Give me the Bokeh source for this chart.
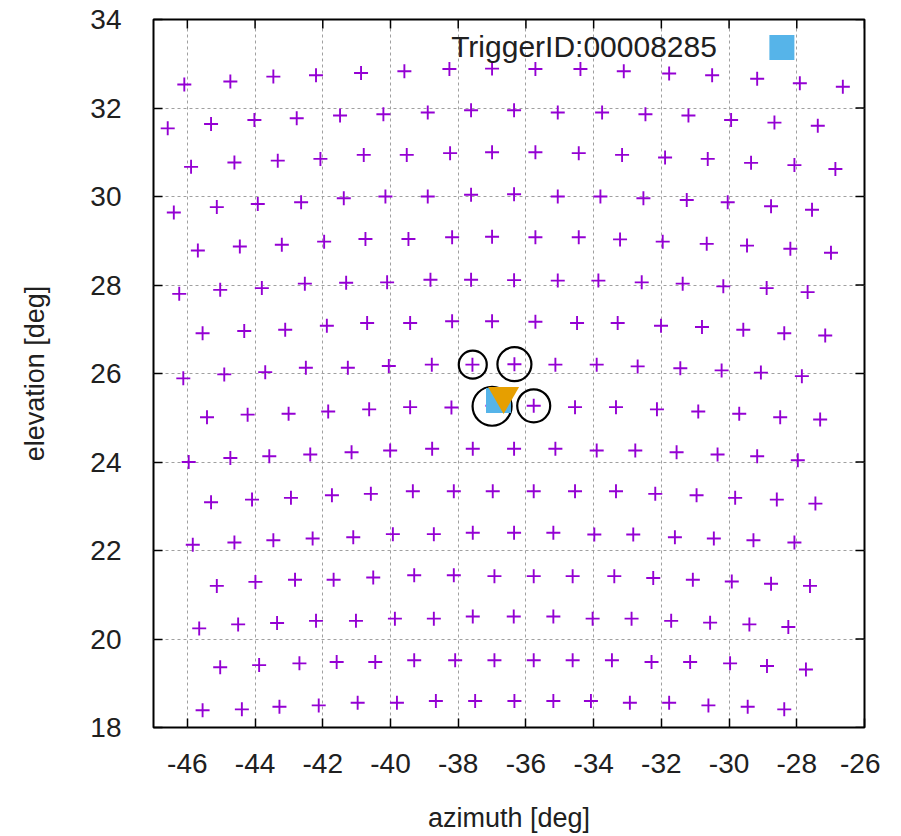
import math
from bokeh.plotting import figure
from bokeh.models import Range1d, SingleIntervalTicker, Label
from bokeh.embed import file_html
from bokeh.resources import INLINE

# camera pixel directions (azimuth / elevation, deg), row by row
pixel_az = [
    -46.09, -44.73, -43.46, -42.20, -40.87, -39.59, -38.26, -37.00, -35.72, -34.39, -33.11, -31.77, -30.50, -29.17, -27.91, -26.64,
    -46.58, -45.30, -44.02, -42.77, -41.49, -40.21, -38.90, -37.62, -36.35, -35.06, -33.75, -32.47, -31.20, -29.94, -28.66, -27.38,
    -45.89, -44.61, -43.33, -42.07, -40.79, -39.52, -38.24, -37.00, -35.72, -34.44, -33.16, -31.89, -30.63, -29.35, -28.07, -26.86,
    -46.40, -45.13, -43.92, -42.64, -41.38, -40.15, -38.90, -37.62, -36.35, -35.06, -33.80, -32.53, -31.25, -30.04, -28.76, -27.55,
    -45.69, -44.45, -43.21, -41.96, -40.74, -39.47, -38.18, -37.00, -35.72, -34.44, -33.22, -31.96, -30.66, -29.47, -28.19, -26.99,
    -46.24, -45.03, -43.80, -42.53, -41.31, -40.10, -38.82, -37.62, -36.35, -35.06, -33.86, -32.58, -31.37, -30.17, -28.89, -27.68,
    -45.55, -44.32, -43.11, -41.88, -40.69, -39.42, -38.18, -37.00, -35.72, -34.49, -33.29, -32.01, -30.80, -29.58, -28.37, -27.16,
    -46.12, -44.91, -43.70, -42.50, -41.26, -40.05, -38.78, -37.58, -36.34, -35.13, -33.91, -32.70, -31.44, -30.22, -29.06, -27.85,
    -45.42, -44.22, -43.01, -41.84, -40.63, -39.42, -38.20, -36.99, -35.77, -34.55, -33.34, -32.13, -30.91, -29.70, -28.49, -27.31,
    -45.96, -44.73, -43.58, -42.37, -41.15, -40.01, -38.77, -37.57, -36.35, -35.13, -33.91, -32.77, -31.55, -30.34, -29.17, -27.97,
    -45.30, -44.09, -42.94, -41.73, -40.58, -39.34, -38.13, -36.98, -35.77, -34.55, -33.34, -32.18, -30.96, -29.82, -28.59, -27.45,
    -45.84, -44.61, -43.46, -42.30, -41.10, -39.93, -38.72, -37.57, -36.35, -35.19, -33.98, -32.83, -31.60, -30.45, -29.28, -28.07,
    -45.13, -43.99, -42.82, -41.68, -40.51, -39.30, -38.13, -36.93, -35.77, -34.62, -33.39, -32.24, -31.07, -29.92, -28.76, -27.61,
    -45.65, -44.50, -43.35, -42.20, -41.02, -39.87, -38.72, -37.57, -36.36, -35.19, -34.03, -32.88, -31.71, -30.56, -29.40, -28.25,
    -45.03, -43.88, -42.69, -41.59, -40.45, -39.30, -38.09, -36.93, -35.77, -34.62, -33.46, -32.29, -31.15, -29.97, -28.88, -27.73,
    -45.55, -44.39, -43.28, -42.12, -40.97, -39.81, -38.66, -37.50, -36.34, -35.19, -34.08, -32.93, -31.77, -30.61, -29.45, -28.37,
]
pixel_el = [
    32.53, 32.60, 32.71, 32.74, 32.79, 32.83, 32.88, 32.89, 32.88, 32.88, 32.83, 32.78, 32.74, 32.66, 32.56, 32.48,
    31.54, 31.64, 31.73, 31.77, 31.83, 31.86, 31.90, 31.95, 31.95, 31.90, 31.90, 31.86, 31.83, 31.73, 31.67, 31.60,
    30.67, 30.77, 30.81, 30.85, 30.94, 30.94, 30.98, 31.00, 31.00, 30.98, 30.94, 30.88, 30.85, 30.76, 30.71, 30.62,
    29.64, 29.76, 29.83, 29.87, 29.96, 30.00, 30.00, 30.04, 30.05, 30.00, 30.00, 29.96, 29.92, 29.87, 29.78, 29.70,
    28.78, 28.87, 28.91, 28.98, 29.04, 29.04, 29.08, 29.09, 29.08, 29.08, 29.03, 28.98, 28.93, 28.89, 28.82, 28.73,
    27.80, 27.89, 27.93, 28.03, 28.05, 28.06, 28.12, 28.12, 28.11, 28.10, 28.10, 28.06, 28.03, 27.97, 27.93, 27.84,
    26.91, 26.96, 26.99, 27.08, 27.14, 27.14, 27.18, 27.18, 27.17, 27.14, 27.14, 27.08, 27.05, 26.99, 26.91, 26.86,
    25.89, 25.98, 26.03, 26.13, 26.13, 26.17, 26.20, 26.20, 26.21, 26.20, 26.20, 26.16, 26.12, 26.07, 26.02, 25.94,
    25.01, 25.07, 25.09, 25.14, 25.19, 25.24, 25.23, 25.27, 25.27, 25.24, 25.24, 25.19, 25.14, 25.09, 25.01, 24.96,
    24.00, 24.09, 24.13, 24.17, 24.22, 24.26, 24.30, 24.30, 24.30, 24.30, 24.26, 24.26, 24.22, 24.17, 24.13, 24.04,
    23.09, 23.15, 23.19, 23.25, 23.28, 23.34, 23.34, 23.34, 23.34, 23.34, 23.34, 23.28, 23.25, 23.19, 23.15, 23.06,
    22.13, 22.18, 22.23, 22.27, 22.30, 22.37, 22.37, 22.40, 22.40, 22.40, 22.36, 22.36, 22.30, 22.27, 22.23, 22.18,
    21.20, 21.29, 21.34, 21.34, 21.39, 21.44, 21.44, 21.42, 21.42, 21.42, 21.42, 21.38, 21.34, 21.30, 21.25, 21.20,
    20.24, 20.33, 20.36, 20.41, 20.41, 20.46, 20.46, 20.51, 20.51, 20.51, 20.46, 20.46, 20.41, 20.37, 20.33, 20.27,
    19.36, 19.41, 19.45, 19.48, 19.48, 19.52, 19.52, 19.52, 19.52, 19.52, 19.52, 19.48, 19.48, 19.45, 19.39, 19.31,
    18.39, 18.41, 18.47, 18.50, 18.56, 18.56, 18.60, 18.60, 18.60, 18.60, 18.60, 18.56, 18.56, 18.50, 18.47, 18.41,
]

# hit pixels (circles) with their amplitude-driven circle diameters
hit_az = [-37.57, -36.34, -35.77, -37.00]
hit_el = [26.20, 26.21, 25.27, 25.26]
hit_size = [28, 34, 33, 39]

# reconstructed / true direction
reco_az = [-36.81]
reco_el = [25.39]
true_az = [-36.66]
true_el = [25.49]

x_ticks = list(range(-46, -25, 2))
y_ticks = list(range(18, 35, 2))
x_tick_labels = {t: str(t) for t in x_ticks}   # plain hyphen-minus, as in the reference

trigger_label = "TriggerID:00008285"
key_text_az, key_text_el = -30.36, 33.38
key_box_az, key_box_el = -28.44, 33.37

FONT = "Liberation Sans"
TXT = "#202020"

p = figure(frame_width=711, frame_height=708,
           x_range=Range1d(-47, -26), y_range=Range1d(18, 34),
           output_backend="svg", toolbar_location=None,
           min_border_left=153, min_border_right=16,
           min_border_top=19, min_border_bottom=108,
           background_fill_color="white", border_fill_color="white")

p.outline_line_color = "black"
p.outline_line_width = 2

xt = SingleIntervalTicker(interval=2, num_minor_ticks=0)
yt = SingleIntervalTicker(interval=2, num_minor_ticks=0)
p.xaxis.ticker = xt
p.yaxis.ticker = yt
p.xgrid.ticker = xt
p.ygrid.ticker = yt
p.xaxis.major_label_overrides = x_tick_labels

for g in (p.xgrid, p.ygrid):
    g.grid_line_color = "#a0a0a0"
    g.grid_line_dash = "3 3"
    g.grid_line_width = 1

for ax in (p.xaxis, p.yaxis):
    ax.axis_line_color = None
    ax.major_tick_in = 9
    ax.major_tick_out = 0
    ax.major_tick_line_color = "black"
    ax.major_tick_line_width = 1.5
    ax.minor_tick_line_color = None
    ax.major_label_text_font = FONT
    ax.major_label_text_font_size = "28px"
    ax.major_label_text_color = TXT
    ax.axis_label_text_font = FONT
    ax.axis_label_text_font_size = "27px"
    ax.axis_label_text_font_style = "normal"
    ax.axis_label_text_color = TXT

p.xaxis.axis_label = "azimuth [deg]"
p.yaxis.axis_label = "elevation [deg]"
p.xaxis.major_label_standoff = 26
p.xaxis.axis_label_standoff = 27
p.yaxis.major_label_standoff = 32
p.yaxis.axis_label_standoff = 37

# mirrored ticks on top and right borders
p.ray(x=x_ticks, y=[34] * len(x_ticks), length=9, length_units="screen",
      angle=-math.pi / 2, line_color="black", line_width=1.5)
p.ray(x=[-26] * len(y_ticks), y=y_ticks, length=9, length_units="screen",
      angle=math.pi, line_color="black", line_width=1.5)

# pixels
p.scatter(pixel_az, pixel_el, marker="cross", size=14,
          line_color="#9400d3", line_width=1.9)

# hit circles
p.scatter(hit_az, hit_el, marker="circle", size=hit_size,
          fill_color=None, line_color="black", line_width=2.2)

# reconstructed direction (square) and true direction (triangle)
p.scatter(reco_az, reco_el, marker="square", size=25,
          fill_color="#56b4e9", line_color=None)
p.scatter(true_az, true_el, marker="inverted_triangle", size=31,
          fill_color="#e69f00", line_color=None)

# key
p.add_layout(Label(x=key_text_az, y=key_text_el, text=trigger_label,
                   text_align="right", text_baseline="middle",
                   text_font=FONT, text_font_size="30px", text_color=TXT))
p.scatter([key_box_az], [key_box_el], marker="square", size=25,
          fill_color="#56b4e9", line_color=None)

open("out.html", "w").write(file_html(p, INLINE))
